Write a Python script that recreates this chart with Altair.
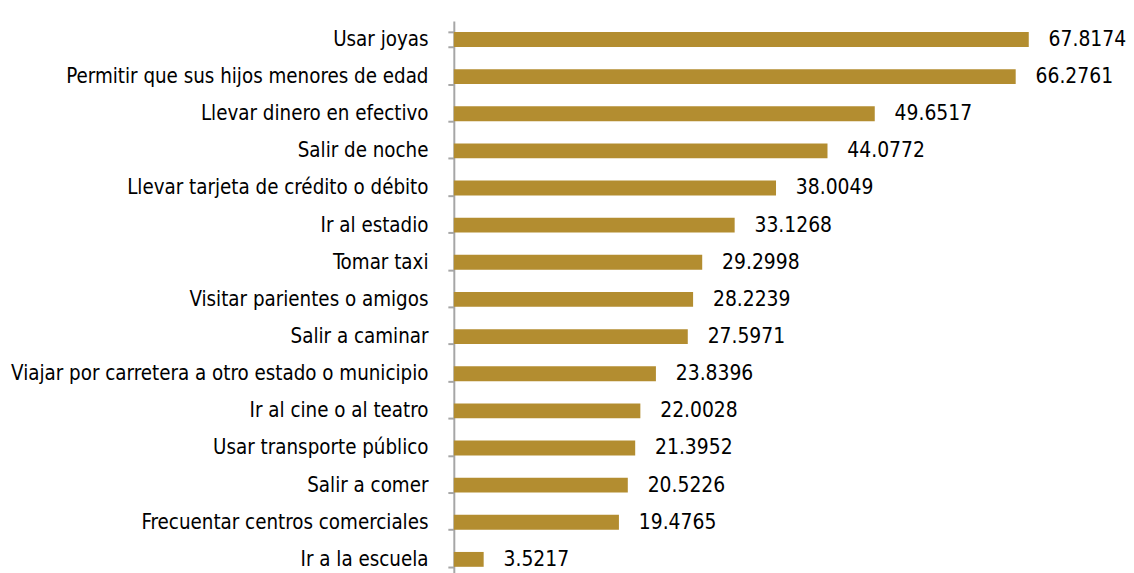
import altair as alt
import pandas as pd

categories = [
    "Usar joyas",
    "Permitir que sus hijos menores de edad",
    "Llevar dinero en efectivo",
    "Salir de noche",
    "Llevar tarjeta de crédito o débito",
    "Ir al estadio",
    "Tomar taxi",
    "Visitar parientes o amigos",
    "Salir a caminar",
    "Viajar por carretera a otro estado o municipio",
    "Ir al cine o al teatro",
    "Usar transporte público",
    "Salir a comer",
    "Frecuentar centros comerciales",
    "Ir a la escuela",
]
values = [67.8174, 66.2761, 49.6517, 44.0772, 38.0049, 33.1268, 29.2998,
          28.2239, 27.5971, 23.8396, 22.0028, 21.3952, 20.5226, 19.4765, 3.5217]

df = pd.DataFrame({"cat": categories, "val": values})
df["label"] = [f"{v:.4f}" for v in values]

FONT = "Liberation Sans Narrow, DejaVu Sans Condensed, Roboto Condensed, Arial Narrow, sans-serif"
GOLD = "#B38D30"

y_enc = alt.Y("cat:N", sort=categories, title=None,
              scale=alt.Scale(range=[0, 561], paddingInner=0.6, paddingOuter=0.3),
              axis=alt.Axis(domainColor="#a6a6a6", domainWidth=2, tickColor="#a6a6a6",
                            tickWidth=2, tickSize=6, tickBand="extent",
                            labelFont=FONT, labelFontSize=20.5, labelColor="#000000",
                            labelPadding=20, labelLimit=0, grid=False))
x_enc = alt.X("val:Q", axis=None, scale=alt.Scale(domain=[0, 78.35], nice=False))

bars = alt.Chart(df).mark_bar(color=GOLD).encode(x=x_enc, y=y_enc)
text = alt.Chart(df).mark_text(align="left", baseline="middle", dx=20, dy=0.5,
                               font=FONT, fontSize=21, color="#000000").encode(
    x=x_enc, y=alt.Y("cat:N", sort=categories), text="label:N")

chart = (bars + text).properties(
    width=669, height=554,
    autosize=alt.AutoSizeParams(type="none"),
    padding={"left": 449, "top": 11, "right": 8, "bottom": 0},
).configure(background="#ffffff").configure_view(stroke=None)

chart.save("out.html", embed_options={"renderer": "svg", "actions": False})
